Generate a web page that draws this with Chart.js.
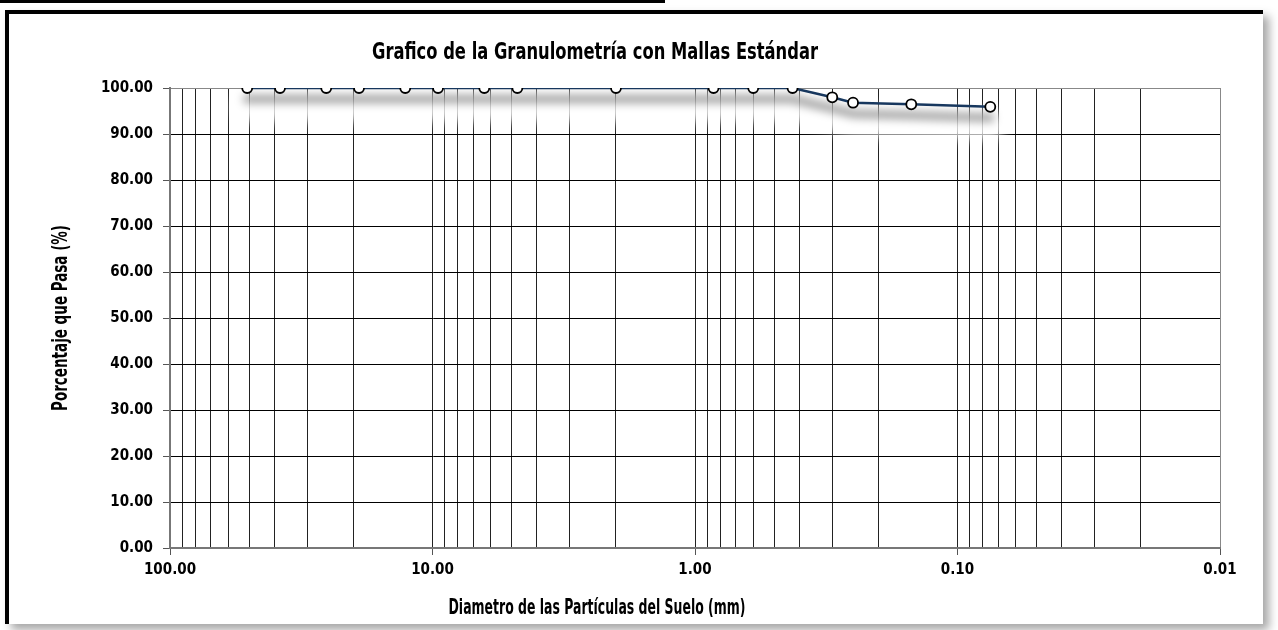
<!DOCTYPE html>
<html><head><meta charset="utf-8">
<script src="https://cdn.jsdelivr.net/npm/chart.js@4.4.1/dist/chart.umd.min.js"></script>
<style>
html,body{margin:0;padding:0;background:#fff;width:1278px;height:630px;overflow:hidden;}
#topline{position:absolute;left:0;top:0;width:665px;height:3px;background:#000;}
#frame{position:absolute;left:5px;top:10px;width:1254px;height:610px;border-left:4px solid #000;border-top:4px solid #000;box-shadow:6px 6px 9px rgba(0,0,0,0.35);background:#fff;}
#c{position:absolute;left:0;top:0;}
</style></head><body>
<div id="topline"></div><div id="frame"></div>
<canvas id="c" width="1278" height="630"></canvas>
<script>
// ---- data ----
const sieveSizes = [50.8, 38.1, 25.4, 19.05, 12.7, 9.525, 6.35, 4.75, 2.00, 0.85, 0.60, 0.425, 0.30, 0.25, 0.15, 0.075];
const percentPassing = [100, 100, 100, 100, 100, 100, 100, 100, 100, 100, 100, 100, 97.98, 96.80, 96.46, 95.90];
const xMajorTicks = [100, 10, 1, 0.1, 0.01];
const xMinorMantissas = [2, 3, 4, 5, 6, 7, 8, 9];
const yTicks = [0, 10, 20, 30, 40, 50, 60, 70, 80, 90, 100];
const chartTitle = 'Grafico de la Granulometría con Mallas Estándar';
const xTitle = 'Diametro de las Partículas del Suelo (mm)';
const yTitle = 'Porcentaje que Pasa (%)';

const FONT = "'Liberation Sans Narrow','DejaVu Sans Condensed','Arial Narrow',sans-serif";

// all x grid positions (major decades + minor mantissas)
const xGridValues = [];
xMajorTicks.forEach(d => {
  xGridValues.push({value: d, major: true});
  if (d < 100) xMinorMantissas.forEach(m => xGridValues.push({value: +(m * d).toPrecision(6), major: false}));
});
xGridValues.sort((a, b) => a.value - b.value);

const shadowPlugin = {
  id: 'lineShadow',
  beforeDatasetsDraw(chart) {
    const pts = chart.getDatasetMeta(0).data;
    const c = chart.ctx, a = chart.chartArea;
    const path = dy => { c.beginPath(); pts.forEach((p, i) => i ? c.lineTo(p.x, p.y + dy) : c.moveTo(p.x, p.y + dy)); };
    c.save();
    c.beginPath(); c.rect(a.left + 1, a.top + 1, a.right - a.left - 2, a.bottom - a.top - 2); c.clip();
    c.lineCap = 'round'; c.lineJoin = 'round';
    c.filter = 'blur(6px)'; c.strokeStyle = 'rgba(255,255,255,0.8)'; c.lineWidth = 30; path(19); c.stroke();
    c.filter = 'blur(4px)'; c.strokeStyle = 'rgba(0,0,0,0.34)'; c.lineWidth = 9; path(11); c.stroke();
    c.restore();
  }
};

function condensedText(c, text, x, y, px, targetWidth, rotate) {
  c.save();
  c.font = "bold " + px + "px " + FONT;
  const w = c.measureText(text).width;
  const sx = Math.min(1, targetWidth / w);
  c.translate(x, y);
  if (rotate) c.rotate(-Math.PI / 2);
  c.scale(sx, 1);
  c.textAlign = 'center'; c.textBaseline = 'middle'; c.fillStyle = '#000';
  c.fillText(text, 0, 0);
  c.restore();
}

const textPlugin = {
  id: 'texts',
  afterDraw(chart) {
    const c = chart.ctx;
    condensedText(c, chartTitle, 595, 53, 23, 446, false);
    condensedText(c, xTitle, 597, 609, 21, 297, false);
    condensedText(c, yTitle, 62, 318, 21, 186, true);
  }
};

new Chart(document.getElementById('c'), {
  type: 'line',
  data: {
    datasets: [{
      data: sieveSizes.map((x, i) => ({x: x, y: percentPassing[i]})),
      borderColor: '#17375E',
      borderWidth: 2.5,
      pointRadius: 5,
      pointBackgroundColor: '#fff',
      pointBorderColor: '#000',
      pointBorderWidth: 1.8,
      tension: 0,
      fill: false
    }]
  },
  options: {
    responsive: false,
    animation: false,
    layout: {padding: {left: 0, top: 88, right: 58, bottom: 0}},
    plugins: {legend: {display: false}, tooltip: {enabled: false}, title: {display: false}},
    scales: {
      x: {
        type: 'logarithmic', reverse: true, min: 0.01, max: 100,
        afterBuildTicks: s => { s.ticks = xGridValues.map(t => ({value: t.value, major: t.major})); },
        afterFit: s => { s.height = 82; },
        ticks: {
          autoSkip: false, maxRotation: 0, minRotation: 0, padding: 6, color: '#000',
          font: {family: FONT, size: 15, weight: 'bold'},
          callback: function (v, i, ticks) { return ticks[i].major ? Number(v).toFixed(2) : ''; }
        },
        grid: {
          lineWidth: 1, tickLength: 7,
          color: c => (c.tick && (c.tick.value === 100 || c.tick.value === 0.01)) ? '#888' : '#222',
          tickColor: c => (c.tick && c.tick.major) ? '#555' : 'rgba(0,0,0,0)'
        },
        border: {color: '#777', width: 2}
      },
      y: {
        min: 0, max: 100,
        afterBuildTicks: s => { s.ticks = yTicks.map(v => ({value: v})); },
        afterFit: s => { s.width = 170; },
        ticks: {
          padding: 10, color: '#000',
          font: {family: FONT, size: 15, weight: 'bold'},
          callback: v => Number(v).toFixed(2)
        },
        grid: {
          lineWidth: 1, tickLength: 7,
          color: c => (c.tick && c.tick.value === 100) ? '#888' : '#000',
          tickColor: '#555'
        },
        border: {color: '#777', width: 2}
      }
    }
  },
  plugins: [shadowPlugin, textPlugin]
});
</script>
</body></html>
